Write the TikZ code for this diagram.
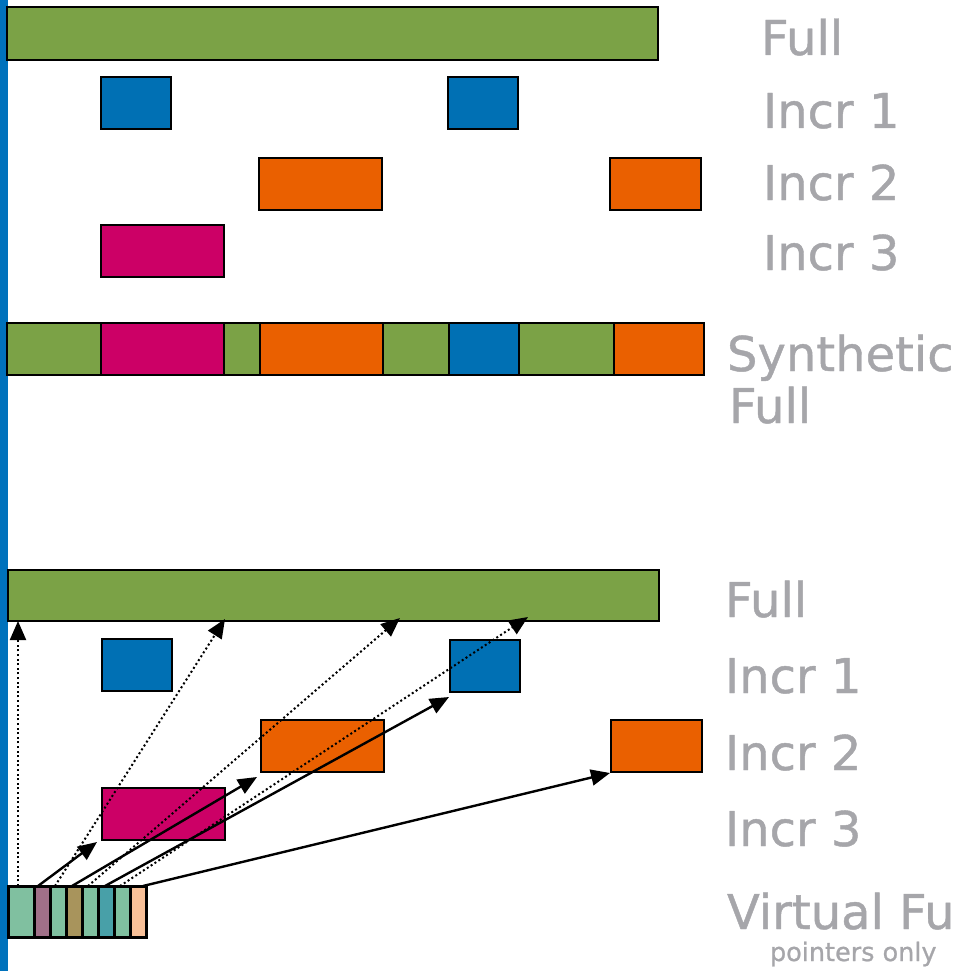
\documentclass[tikz,border=0pt]{standalone}
\usepackage{fontspec}
\setmainfont{DejaVu Sans}
\newfontfamily\lblfont[FakeBold=0.9]{DejaVu Sans}
\usetikzlibrary{arrows.meta,calc}
\definecolor{cgreen}{RGB}{123,162,70}
\definecolor{cblue}{RGB}{0,112,180}
\definecolor{corange}{RGB}{234,96,0}
\definecolor{cmag}{RGB}{204,0,102}
\definecolor{cbar}{RGB}{0,114,188}
\definecolor{vgreen}{RGB}{128,192,160}
\definecolor{vmauve}{RGB}{160,112,136}
\definecolor{volive}{RGB}{168,148,92}
\definecolor{vteal}{RGB}{72,160,168}
\definecolor{vpeach}{RGB}{248,192,152}
\definecolor{lblgray}{RGB}{166,166,170}
\newcommand\bx[6]{\node[box,fill=#2,minimum width=#5pt,minimum height=#6pt] (#1) at (#3,#4) {};}
\begin{document}
\begin{tikzpicture}[x=1pt,y=-1pt,
  box/.style={draw=black,line width=2.4pt,inner sep=0pt,outer sep=0pt,anchor=north west},
  vbox/.style={box,line width=3pt},
  lbl/.style={anchor=base west,inner sep=0pt,outer sep=0pt,text=lblgray,font=\lblfont\fontsize{48}{50}\selectfont},
  ptr/.style={line width=2.4pt,-{Triangle[length=19pt,width=16pt]}},
  dptr/.style={line width=2pt,dash pattern=on 2pt off 2.6pt,-{Triangle[length=19pt,width=16pt]}}]
\useasboundingbox (0,0) rectangle (954,971);
\clip (0,0) rectangle (954,971);
\fill[cbar] (0,0) rectangle (8,971);
% top section
\bx{fullA}{cgreen}{7}{7}{651}{53}
\bx{iAa}{cblue}{101}{77}{70}{52}
\bx{iAb}{cblue}{448}{77}{70}{52}
\bx{iBa}{corange}{259}{158}{123}{52}
\bx{iBb}{corange}{610}{158}{91}{52}
\bx{iCa}{cmag}{101}{225}{123}{52}
% synthetic full
\bx{s1}{cgreen}{7}{323}{94}{52}
\bx{s2}{cmag}{101}{323}{123}{52}
\bx{s3}{cgreen}{224}{323}{36}{52}
\bx{s4}{corange}{260}{323}{123}{52}
\bx{s5}{cgreen}{383}{323}{66}{52}
\bx{s6}{cblue}{449}{323}{70}{52}
\bx{s7}{cgreen}{519}{323}{95}{52}
\bx{s8}{corange}{614}{323}{90}{52}
% bottom section
\bx{fullB}{cgreen}{8}{570}{651}{51}
\bx{jAa}{cblue}{102}{639}{70}{52}
\bx{jAb}{cblue}{450}{640}{70}{52}
\bx{jBa}{corange}{261}{720}{123}{52}
\bx{jBb}{corange}{611}{720}{91}{52}
\bx{jCa}{cmag}{102}{788}{123}{52}
% virtual full
\node[vbox,fill=vgreen,minimum width=26pt,minimum height=51pt] (v1) at (8,886) {};
\node[vbox,fill=vmauve,minimum width=16pt,minimum height=51pt] (v2) at (34,886) {};
\node[vbox,fill=vgreen,minimum width=16pt,minimum height=51pt] (v3) at (50,886) {};
\node[vbox,fill=volive,minimum width=16pt,minimum height=51pt] (v4) at (66,886) {};
\node[vbox,fill=vgreen,minimum width=16pt,minimum height=51pt] (v5) at (82,886) {};
\node[vbox,fill=vteal,minimum width=16pt,minimum height=51pt] (v6) at (98,886) {};
\node[vbox,fill=vgreen,minimum width=16pt,minimum height=51pt] (v7) at (114,886) {};
\node[vbox,fill=vpeach,minimum width=16pt,minimum height=51pt] (v8) at (130,886) {};
% dotted pointers to the full
\draw[dptr] ($(v1.north west)+(10,0)$) -- ($(fullB.south west)+(10,0)$);
\draw[dptr] ($(v3.north west)+(5,0)$) -- ($(fullB.south west)+(217,-2)$);
\draw[dptr] ($(v5.north west)+(6,0)$) -- ($(fullB.south west)+(392,-3)$);
\draw[dptr] ($(v7.north west)+(6,0)$) -- ($(fullB.south west)+(520,-4)$);
% solid pointers to the increments
\draw[ptr] ($(v2.north west)+(4,0)$) -- ($(jCa.south west)+(-5,2)$);
\draw[ptr] ($(v4.north west)+(6,0)$) -- ($(jBa.south west)+(-4,5)$);
\draw[ptr] ($(v6.north west)+(7,0)$) -- ($(jAb.south west)+(-1,5)$);
\draw[ptr] ($(v8.north west)+(13,0)$) -- ($(jBb.south west)+(-1,1)$);
% labels
\node[lbl] (lA0) at (761,55) {Full};
\node[lbl] (lA1) at (763,128) {Incr 1};
\node[lbl] (lA2) at (763,200) {Incr 2};
\node[lbl] (lA3) at (763,270) {Incr 3};
\node[lbl] (lS1) at (727,371) {Synthetic};
\node[lbl] (lS2) at (729,423) {Full};
\node[lbl] (lB0) at (725,617) {Full};
\node[lbl] (lB1) at (725,693) {Incr 1};
\node[lbl] (lB2) at (725,770) {Incr 2};
\node[lbl] (lB3) at (725,846) {Incr 3};
\node[lbl] (lV) at (727,929) {Virtual Full};
\node[lbl,font=\lblfont\fontsize{25.5}{28}\selectfont] (lP) at (770,961) {pointers only};
\end{tikzpicture}
\end{document}
